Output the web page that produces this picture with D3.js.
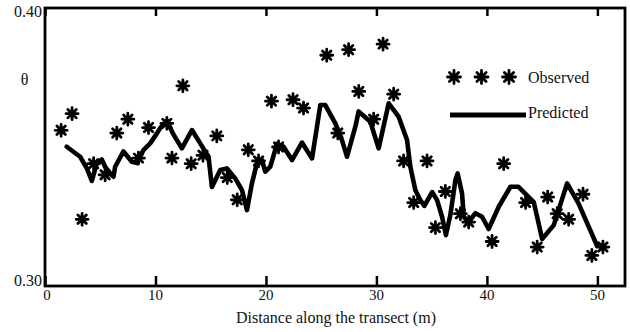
<!DOCTYPE html>
<html>
<head>
<meta charset="utf-8">
<script src="https://cdn.jsdelivr.net/npm/d3@7"></script>
<style>
    body { margin: 0; background: #fff; }
    text { font-family: "Liberation Serif", "Times New Roman", serif; fill: #111; }
</style>
</head>
<body>
<svg id="chart" width="630" height="332"></svg>
<script>
// tick values
var xTicks = [0, 10, 20, 30, 40, 50];
var yLabels = [0.30, 0.40];

// observed soil moisture (stars)
var obsDist = [1.46, 2.45, 3.36, 4.4, 5.44, 6.5, 7.5, 8.46, 9.37, 11.03, 11.49, 12.48, 13.23, 14.3, 15.55,
    16.5, 17.4, 18.4, 19.33, 20.5, 21.14, 22.45, 23.4, 25.5, 26.5, 27.48, 28.4, 29.75, 30.6, 31.56,
    32.46, 33.37, 34.58, 35.34, 36.24, 37.6, 38.35, 40.47, 41.52, 43.5, 44.55, 45.5, 46.36, 47.4,
    48.7, 49.5, 50.5];
var obsTheta = [0.356, 0.362, 0.324, 0.344, 0.340, 0.355, 0.360, 0.346, 0.357, 0.3585, 0.346, 0.372, 0.344, 0.347, 0.354,
    0.339, 0.331, 0.349, 0.345, 0.3665, 0.350, 0.367, 0.364, 0.383, 0.355, 0.385, 0.370, 0.360, 0.387, 0.369,
    0.345, 0.330, 0.345, 0.321, 0.334, 0.326, 0.323, 0.316, 0.344, 0.330, 0.314, 0.332, 0.326, 0.324,
    0.333, 0.311, 0.314];

// predicted (thick line)
var predDist = [1.97, 3.18, 3.79, 4.24, 4.69, 5.14, 5.44, 5.90, 6.20, 6.35, 7.10, 7.86, 8.34, 8.91, 9.52,
    10.13, 10.43, 11.03, 11.60, 12.39, 13.30, 14.05, 14.80, 15.11, 15.86, 16.47, 17.22, 17.83, 18.28, 18.73,
    19.18, 19.64, 19.94, 20.39, 21.00, 21.59, 22.36, 23.26, 24.17, 24.62, 24.92, 25.37, 26.28, 26.88, 27.34,
    28.09, 28.39, 29.45, 30.20, 31.11, 32.01, 32.77, 33.07, 33.52, 33.97, 34.34, 35.04, 35.49, 35.94, 36.29,
    36.69, 37.15, 37.35, 37.75, 37.90, 38.35, 38.96, 39.56, 40.16, 41.07, 42.13, 42.86, 44.24, 45.00, 46.05,
    47.26, 48.29, 49.98];
var predTheta = [0.3501, 0.3465, 0.3423, 0.3378, 0.3441, 0.3455, 0.3429, 0.3405, 0.3393, 0.3429, 0.3484, 0.3447, 0.3442, 0.3489, 0.3513,
    0.3549, 0.3568, 0.3595, 0.3547, 0.3495, 0.3561, 0.3513, 0.3465, 0.3356, 0.3417, 0.3423, 0.3387, 0.3345, 0.3273, 0.3369,
    0.3441, 0.3453, 0.3411, 0.3429, 0.3511, 0.3501, 0.3453, 0.3516, 0.3459, 0.3573, 0.3651, 0.3651, 0.3585, 0.3525, 0.3465,
    0.3573, 0.3628, 0.3591, 0.3495, 0.3657, 0.3609, 0.3525, 0.3429, 0.3345, 0.3309, 0.3288, 0.3338, 0.3309, 0.3249, 0.3183,
    0.3255, 0.3381, 0.3405, 0.3333, 0.3249, 0.3231, 0.3262, 0.3249, 0.3205, 0.3285, 0.3357, 0.3357, 0.3302, 0.3169, 0.3219,
    0.3369, 0.3297, 0.3144];

var svg = d3.select('#chart');
var plotLeft = 45, plotRight = 625, plotTop = 8, plotBottom = 286;

var x = d3.scaleLinear().domain([0, 52.5]).range([plotLeft, plotRight]);
var y = d3.scaleLinear().domain([0.30, 0.40]).range([plotBottom, plotTop]);

// asterisk marker: 4 crossing strokes
function star(r) {
    var p = d3.path();
    [0, 45, 90, 135].forEach(function (a) {
        var t = a * Math.PI / 180;
        p.moveTo(-r * Math.cos(t), -r * Math.sin(t));
        p.lineTo(r * Math.cos(t), r * Math.sin(t));
    });
    return p.toString();
}

// predicted line
var line = d3.line()
        .x(function (d) { return x(d[0]); })
        .y(function (d) { return y(d[1]); });
svg.append('path')
        .datum(d3.zip(predDist, predTheta))
        .attr('d', line)
        .attr('fill', 'none')
        .attr('stroke', '#000')
        .attr('stroke-width', 4.6)
        .attr('stroke-linejoin', 'round')
        .attr('stroke-linecap', 'round');

// observed stars
svg.append('g').selectAll('path')
        .data(d3.zip(obsDist, obsTheta))
        .join('path')
        .attr('transform', function (d) { return 'translate(' + x(d[0]) + ',' + y(d[1]) + ')'; })
        .attr('d', star(6))
        .attr('stroke', '#000')
        .attr('stroke-width', 2.8)
        .attr('stroke-linecap', 'round');

// axes, ticks pointing inward on top and bottom
svg.append('g')
        .attr('transform', 'translate(0,' + plotBottom + ')')
        .call(d3.axisTop(x).tickValues(xTicks).tickSize(10).tickFormat(''))
        .call(function (g) { g.select('.domain').remove(); })
        .selectAll('line').attr('stroke', '#000').attr('stroke-width', 2.5);
svg.append('g')
        .attr('transform', 'translate(0,' + plotTop + ')')
        .call(d3.axisBottom(x).tickValues(xTicks).tickSize(8).tickFormat(''))
        .call(function (g) { g.select('.domain').remove(); })
        .selectAll('line').attr('stroke', '#000').attr('stroke-width', 2.5);

svg.append('rect')
        .attr('x', plotLeft).attr('y', plotTop)
        .attr('width', plotRight - plotLeft).attr('height', plotBottom - plotTop)
        .attr('fill', 'none')
        .attr('stroke', '#000')
        .attr('stroke-width', 2.8);

// tick labels
svg.append('g').selectAll('text')
        .data(xTicks)
        .join('text')
        .attr('x', function (d) { return x(d) + (d === 0 ? 2 : 0); })
        .attr('y', 300)
        .attr('text-anchor', 'middle')
        .style('font-size', '15px')
        .text(function (d) { return d; });

svg.append('g').selectAll('text')
        .data(yLabels)
        .join('text')
        .attr('x', 42)
        .attr('y', function (d) { return y(d) + (d === 0.40 ? 9 : 0); })
        .attr('text-anchor', 'end')
        .style('font-size', '16px')
        .text(function (d) { return d3.format('.2f')(d); });

svg.append('text')
        .attr('x', 24.5).attr('y', 85)
        .attr('text-anchor', 'middle')
        .style('font-size', '16px')
        .text('θ');

svg.append('text')
        .attr('x', 336).attr('y', 323)
        .attr('text-anchor', 'middle')
        .style('font-size', '16px')
        .text('Distance along the transect (m)');

// legend
var legend = svg.append('g');
legend.selectAll('path')
        .data([454, 481.5, 509])
        .join('path')
        .attr('transform', function (d) { return 'translate(' + d + ',77)'; })
        .attr('d', star(6.5))
        .attr('stroke', '#000')
        .attr('stroke-width', 2.8)
        .attr('stroke-linecap', 'round');
legend.append('text')
        .attr('x', 528).attr('y', 82.5)
        .style('font-size', '16px')
        .text('Observed');
legend.append('line')
        .attr('x1', 450).attr('x2', 526)
        .attr('y1', 115).attr('y2', 115)
        .attr('stroke', '#000')
        .attr('stroke-width', 5);
legend.append('text')
        .attr('x', 528).attr('y', 118)
        .style('font-size', '16px')
        .text('Predicted');
</script>
</body>
</html>
